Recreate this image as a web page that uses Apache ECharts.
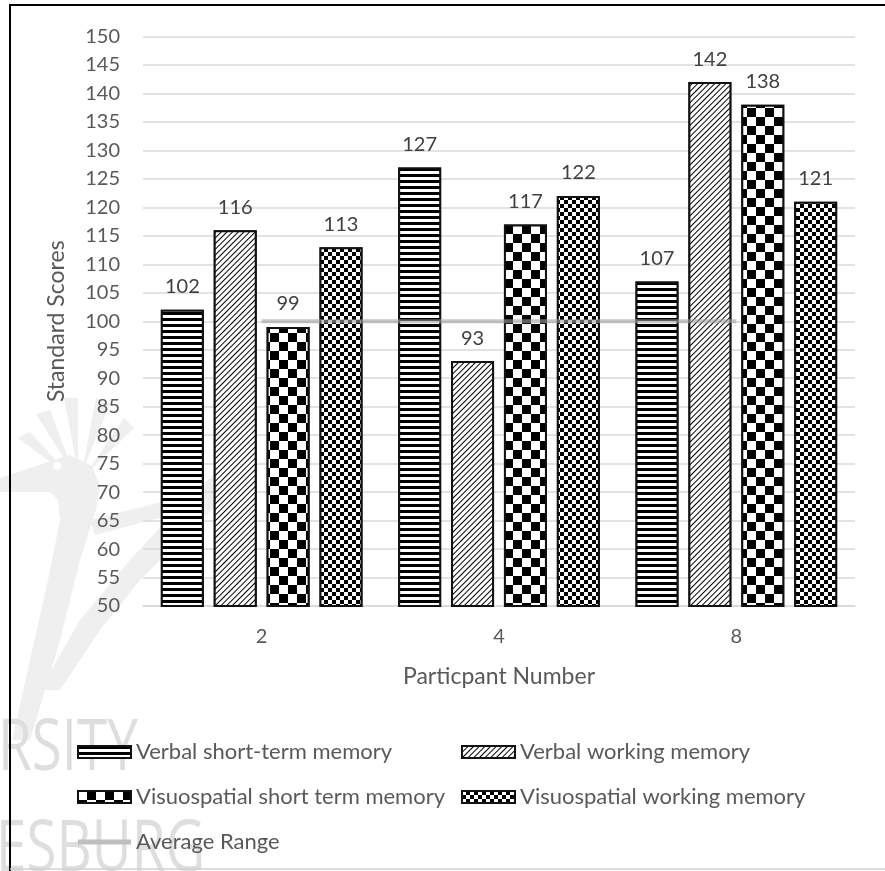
<!DOCTYPE html>
<html><head><meta charset="utf-8">
<script src="https://cdn.jsdelivr.net/npm/echarts@6/dist/echarts.min.js"></script>
<style>html,body{margin:0;padding:0;background:#fff}#c{width:885px;height:871px}</style>
</head><body><div id="c"></div>
<script>
const categories = ['2', '4', '8'];
const verbalShortTerm = [102, 127, 107];
const verbalWorking = [116, 93, 142];
const visuoShortTerm = [99, 117, 138];
const visuoWorking = [113, 122, 121];
const averageRange = [100, 100, 100];
const seriesNames = ['Verbal short-term memory', 'Verbal working memory', 'Visuospatial short term memory', 'Visuospatial working memory', 'Average Range'];
const yMin = 50, yMax = 150, yStep = 5;

const FONT = 'Lato, "Open Sans", sans-serif';
const chart = echarts.init(document.getElementById('c'), null, {renderer: 'canvas'});

const decals = [
  {symbol: 'rect', symbolSize: 1, color: '#000', backgroundColor: '#fff', dashArrayX: [1, 0], dashArrayY: [2.6, 2.8], rotation: 0},
  {symbol: 'rect', symbolSize: 1, color: '#000', backgroundColor: '#fff', dashArrayX: [1, 0], dashArrayY: [1, 2.2], rotation: -Math.PI / 4},
  {symbol: 'rect', symbolSize: 1, color: '#000', backgroundColor: '#fff', dashArrayX: [[8.5, 8.5], [0, 8.5, 8.5, 0]], dashArrayY: [8.5, 0], rotation: 0},
  {symbol: 'rect', symbolSize: 1, color: '#000', backgroundColor: '#fff', dashArrayX: [[4, 4], [0, 4, 4, 0]], dashArrayY: [4, 0], rotation: 0}
];
const dataSets = [verbalShortTerm, verbalWorking, visuoShortTerm, visuoWorking];

const barSeries = dataSets.map((d, i) => ({
  name: seriesNames[i],
  type: 'bar',
  data: d,
  barWidth: 43,
  barGap: '23%',
  z: 2,
  itemStyle: {color: '#fff', borderColor: '#111', borderWidth: 2, decal: decals[i]},
  label: {show: true, position: 'top', distance: 13, color: '#404040', fontSize: 20, fontFamily: FONT}
}));

const legendText = {color: '#595959', fontSize: 22, lineHeight: 22, fontFamily: FONT};
const WM = '#efefef';
const poly = (pts) => ({type: 'polygon', z: -20, silent: true, shape: {points: pts}, style: {fill: WM}});

const option = {
  animation: false,
  backgroundColor: '#fff',
  aria: {enabled: false},
  textStyle: {fontFamily: FONT},
  grid: {left: 143, right: 30, top: 36.5, bottom: 265},
  xAxis: {
    type: 'category', data: categories,
    name: 'Particpant Number', nameLocation: 'middle', nameGap: 59,
    nameTextStyle: {color: '#595959', fontSize: 23, fontFamily: FONT},
    axisLine: {lineStyle: {color: '#d9d9d9', width: 1.5}},
    axisTick: {show: false},
    axisLabel: {color: '#595959', fontSize: 20, margin: 21, fontFamily: FONT}
  },
  yAxis: {
    type: 'value', min: yMin, max: yMax, interval: yStep,
    name: 'Standard Scores', nameLocation: 'middle', nameGap: 75, nameRotate: 90,
    nameTextStyle: {color: '#595959', fontSize: 23, fontFamily: FONT},
    axisLine: {show: false}, axisTick: {show: false},
    axisLabel: {color: '#595959', fontSize: 20, margin: 23, fontFamily: FONT},
    splitLine: {lineStyle: {color: '#d9d9d9', width: 1.5}}
  },
  legend: [
    {
      orient: 'vertical', left: 72, top: 736, itemWidth: 53, itemHeight: 12, itemGap: 23,
      icon: 'rect', textStyle: legendText,
      data: [seriesNames[0], seriesNames[2],
        {name: seriesNames[4], icon: 'path://M0,0H53V5H0Z', itemStyle: {color: '#bfbfbf'}}]
    },
    {
      orient: 'vertical', left: 456, top: 736, itemWidth: 53, itemHeight: 12, itemGap: 23,
      icon: 'rect', textStyle: legendText,
      data: [seriesNames[1], seriesNames[3]]
    }
  ],
  graphic: [
    poly([[72, 478], [18, 438], [30, 432]]),
    poly([[74, 474], [36, 414], [50, 410]]),
    poly([[78, 472], [64, 398], [78, 398]]),
    poly([[82, 472], [96, 398], [110, 404]]),
    poly([[86, 474], [124, 418], [134, 428]]),
    poly([[0, 478], [48, 462], [70, 455], [92, 466], [100, 486], [96, 510], [80, 560], [60, 640], [45, 690], [30, 740], [12, 740], [30, 660], [48, 580], [60, 520], [58, 500], [50, 492], [0, 492]]),
    poly([[40, 690], [80, 620], [130, 560], [190, 495], [255, 440], [258, 470], [200, 520], [140, 580], [100, 630], [60, 690]]),
    poly([[90, 520], [170, 500], [250, 490], [250, 500], [170, 515], [95, 535]]),
    {type: 'circle', z: -19, silent: true, shape: {cx: 57, cy: 466, r: 4}, style: {fill: '#fff'}},
    {type: 'text', z: -10, left: -2, top: 713, scaleX: 0.76, style: {text: 'RSITY', fill: '#dedede', fontSize: 72, fontFamily: '"Open Sans", sans-serif'}},
    {type: 'text', z: -10, left: -4, top: 814, scaleX: 0.76, style: {text: 'ESBURG', fill: '#dedede', fontSize: 72, fontFamily: '"Open Sans", sans-serif'}},
    {type: 'line', z: 100, shape: {x1: 10, y1: 4, x2: 10, y2: 871}, style: {stroke: '#000', lineWidth: 2}},
    {type: 'line', z: 100, shape: {x1: 9, y1: 5, x2: 885, y2: 5}, style: {stroke: '#000', lineWidth: 2}},
    {type: 'line', z: 100, shape: {x1: 10, y1: 869, x2: 885, y2: 869}, style: {stroke: '#d0d0d0', lineWidth: 1.5}}
  ],
  series: barSeries.concat([{
    name: seriesNames[4], type: 'line', data: averageRange, symbol: 'none', z: 5,
    itemStyle: {color: '#bfbfbf'},
    lineStyle: {color: 'rgba(160,160,160,0.6)', width: 4}
  }])
};
chart.setOption(option);
</script></body></html>
